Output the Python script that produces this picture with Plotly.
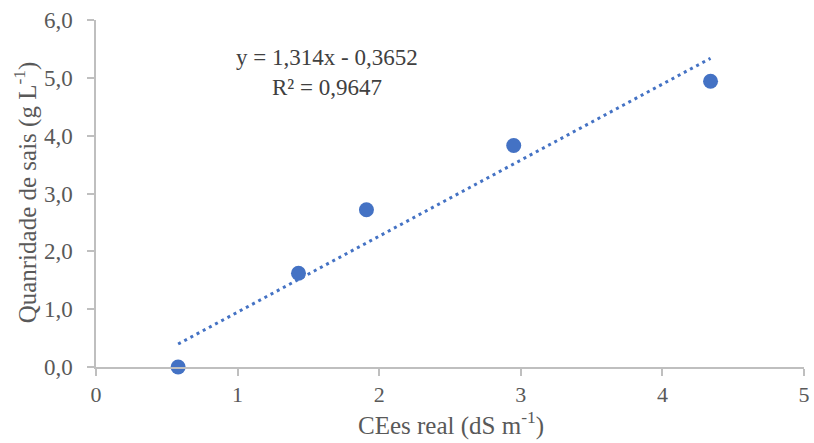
import plotly.graph_objects as go

x_vals = [0.58, 1.43, 1.91, 2.95, 4.34]
y_vals = [0.0, 1.62, 2.72, 3.83, 4.94]
slope = 1.314
intercept = -0.3652
x_ticks = [0, 1, 2, 3, 4, 5]
y_ticks = [0, 1, 2, 3, 4, 5, 6]
y_tick_labels = ["0,0", "1,0", "2,0", "3,0", "4,0", "5,0", "6,0"]
eq_text = "y = 1,314x - 0,3652"
r2_text = "R² = 0,9647"
x_title = "CEes real (dS m<sup>-1</sup>)"
y_title = "Quanridade de sais (g L<sup>-1</sup>)"

trend_x = [min(x_vals), max(x_vals)]
trend_y = [slope * v + intercept for v in trend_x]

FF = "Liberation Serif"
txt_color = "#595959"
axis_color = "#bfbfbf"

fig = go.Figure()
fig.add_trace(go.Scatter(
    x=trend_x, y=trend_y, mode="lines",
    line=dict(color="#4472C4", width=3, dash="3px,4px"),
    hoverinfo="skip", showlegend=False))
fig.add_trace(go.Scatter(
    x=x_vals, y=y_vals, mode="markers",
    marker=dict(color="#4472C4", size=15, line=dict(width=0)),
    showlegend=False, cliponaxis=False))

fig.add_annotation(x=1.63, y=5.35, text=eq_text, showarrow=False,
                   font=dict(family=FF, size=23, color="#404040"),
                   xanchor="center", yanchor="middle")
fig.add_annotation(x=1.63, y=4.84, text=r2_text, showarrow=False,
                   font=dict(family=FF, size=23, color="#404040"),
                   xanchor="center", yanchor="middle")

# axis titles
fig.add_annotation(xref="paper", yref="paper", x=0.502, y=-0.163, text=x_title,
                   showarrow=False, font=dict(family=FF, size=25, color=txt_color),
                   xanchor="center", yanchor="middle")
fig.add_annotation(xref="paper", yref="paper", x=-0.099, y=0.503, text=y_title,
                   showarrow=False, textangle=-90,
                   font=dict(family=FF, size=25, color=txt_color),
                   xanchor="center", yanchor="middle")

fig.update_layout(
    width=814, height=443,
    margin=dict(l=96, r=4, t=20, b=76),
    paper_bgcolor="white", plot_bgcolor="white",
    font=dict(family=FF, size=23, color=txt_color),
    xaxis=dict(
        range=[0, 5], tickvals=x_ticks, ticktext=[str(t) for t in x_ticks],
        showgrid=False, zeroline=False, showline=True, linecolor=axis_color, linewidth=1.5,
        ticks="outside", ticklen=7, tickcolor=axis_color, tickwidth=1.5,
        tickfont=dict(family=FF, size=22, color=txt_color),
        ticklabeloverflow="allow", ticklabelstandoff=0,
    ),
    yaxis=dict(
        range=[0, 6], tickvals=y_ticks, ticktext=y_tick_labels,
        showgrid=False, zeroline=False, showline=True, linecolor=axis_color, linewidth=1.5,
        ticks="outside", ticklen=7, tickcolor=axis_color, tickwidth=1.5,
        tickfont=dict(family=FF, size=23, color=txt_color),
        ticklabelstandoff=10,
    ),
)

fig.write_html("out.html")
